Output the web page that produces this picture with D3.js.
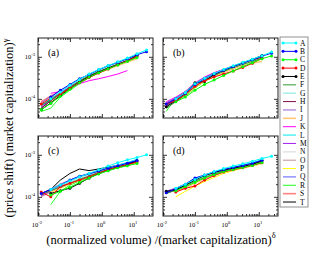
<!DOCTYPE html>
<html>
<head>
<meta charset="utf-8">
<title>Price impact master curve</title>
<script src="https://cdn.jsdelivr.net/npm/d3@7"></script>
<style>
  body { margin: 0; background: #fff; }
  svg { font-family: "Liberation Serif", "DejaVu Serif", serif; }
  .tick line { stroke: #000; stroke-width: 0.8; }
</style>
</head>
<body>
<div id="chart"></div>
<script>
// normalized volume / (market capitalization)^delta, bin centres
var volume = [0.0126, 0.0251, 0.0501, 0.1, 0.2, 0.398, 0.794, 1.58, 3.16, 6.31, 12.6, 25.1];
var stocks = ['A','B','C','D','E','F','G','H','I','J','K','L','M','N','O','P','Q','R','S','T'];
var stockColors = ['#00ffff','#0000ff','#00ff00','#ff0000','#000000','#339933','#a8f0e8','#80104a',
  '#9460d0','#ffc878','#ff00ff','#00e8f0','#a020f0','#e6e6e6','#c09090','#ffff00','#5a5aff','#22ff22','#ff8080','#000000'];
var thickStocks = ['G','J','N','S'];
var shiftUnit = 1e-4; // values below are in units of 10^-4

var panelA = [
  [null,1.0,1.45,2.1,2.9,3.9,5.0,6.2,7.6,9.3,11.8,14.5],
  [null,1.1,1.6,2.2,3.0,3.8,4.9,6.1,7.4,9.0,11.2,13.2],
  [0.55,0.78,1.15,1.7,2.4,3.3,4.2,5.2,6.4,7.8,9.6,null],
  [0.75,1.05,1.3,1.8,2.4,3.2,4.1,5.1,6.5,8.0,10.2,null],
  [0.55,0.8,1.2,1.75,2.5,3.4,4.3,5.3,6.6,8.1,10.8,null],
  [0.7,0.95,1.3,1.85,2.6,3.5,4.4,5.4,6.6,8.0,9.8,null],
  [null,1.05,1.5,2.1,2.9,3.8,4.8,5.9,7.2,8.8,11.0,null],
  [0.6,0.9,1.3,1.9,2.7,3.6,4.5,5.6,6.9,8.4,null,null],
  [0.8,1.15,1.5,2.0,2.8,3.7,4.7,5.7,7.0,8.5,10.6,null],
  [null,0.85,1.25,1.8,2.5,3.3,4.2,5.1,6.2,7.5,9.0,null],
  [null,1.35,1.5,1.8,2.3,2.7,3.0,3.4,3.9,4.7,null,null],
  [0.7,1.0,1.4,2.0,2.8,3.7,4.7,5.8,7.1,8.7,11.2,null],
  [0.65,0.95,1.4,2.0,2.8,3.8,4.6,5.6,6.9,8.5,null,null],
  [null,0.9,1.3,1.9,2.6,3.5,4.4,5.3,6.5,7.9,9.5,null],
  [0.6,0.9,1.25,1.75,2.5,3.4,4.3,5.3,6.5,7.9,9.8,null],
  [null,0.95,1.35,1.9,2.6,3.5,4.5,5.5,6.7,8.1,9.9,null],
  [0.7,1.0,1.45,2.05,2.85,3.75,4.7,5.7,7.0,8.6,10.8,null],
  [0.5,0.6,1.1,1.6,2.3,3.2,4.1,5.1,6.3,7.7,9.6,null],
  [0.85,1.15,1.5,2.0,2.7,3.5,4.4,5.4,6.6,8.0,null,null],
  [0.6,0.9,1.3,1.85,2.6,3.5,4.5,5.6,6.9,8.4,10.6,null]
];
var panelB = [
  [null,1.0,1.4,2.3,3.1,4.0,5.0,6.1,7.4,8.8,10.6,13.0],
  [0.75,1.0,1.35,2.2,3.0,3.9,4.8,5.9,7.1,8.5,10.4,12.2],
  [null,0.85,1.1,1.6,2.2,2.8,3.6,4.6,5.8,7.2,9.0,10.5],
  [0.75,0.9,1.3,2.0,2.7,3.3,3.9,4.6,5.6,7.0,9.3,null],
  [0.65,0.9,1.35,2.4,2.6,3.8,4.8,5.9,7.2,8.6,10.8,null],
  [0.6,0.85,1.25,1.95,2.8,3.6,4.5,5.5,6.6,7.8,9.2,null],
  [null,0.95,1.35,2.1,2.9,3.8,4.7,5.7,6.9,8.2,null,null],
  [0.7,1.0,1.4,2.2,3.0,3.9,4.8,5.8,7.0,8.3,9.8,null],
  [0.8,1.05,1.5,2.3,3.1,3.9,4.7,5.6,6.7,8.0,null,null],
  [null,0.9,1.25,1.9,2.7,3.5,4.3,5.2,6.1,7.0,7.8,null],
  [0.85,1.1,1.5,2.4,3.3,4.2,5.0,6.0,7.1,8.3,null,null],
  [0.7,0.95,1.35,2.15,3.0,3.9,4.9,6.0,7.2,8.6,10.2,null],
  [0.8,1.0,1.4,2.25,3.1,4.0,4.9,5.9,7.0,8.3,null,null],
  [null,0.9,1.3,2.0,2.8,3.7,4.6,5.5,6.6,7.9,9.3,null],
  [0.65,0.9,1.3,2.0,2.8,3.6,4.5,5.4,6.5,7.8,9.2,null],
  [null,0.85,1.2,1.85,2.6,3.4,4.3,5.3,6.4,7.7,9.0,null],
  [0.7,0.95,1.35,2.1,2.9,3.8,4.7,5.7,6.9,8.2,9.9,null],
  [0.5,1.05,1.15,1.8,2.6,3.4,4.3,5.3,6.5,7.8,9.4,null],
  [0.75,0.95,1.3,2.0,2.8,3.6,4.5,5.4,6.5,7.8,null,null],
  [0.7,0.95,1.4,2.3,3.2,4.1,5.0,6.0,7.2,8.5,10.0,null]
];
var panelC = [
  [null,1.5,1.9,2.4,3.0,3.6,4.4,5.4,6.5,7.6,8.6,10.0],
  [1.2,1.5,1.9,2.5,3.1,3.5,4.1,4.8,5.5,6.3,7.3,null],
  [null,1.1,1.35,1.7,2.2,2.8,3.5,4.2,4.9,5.5,6.2,null],
  [1.3,1.0,1.75,2.1,2.5,3.0,3.7,4.4,5.1,5.8,6.7,null],
  [null,1.2,1.4,1.6,2.1,2.8,3.6,4.4,5.1,5.8,7.2,null],
  [1.1,1.4,1.7,2.1,2.6,3.1,3.8,4.5,5.2,5.9,6.8,null],
  [null,1.5,1.9,2.3,2.8,3.3,4.0,4.7,5.4,6.1,null,null],
  [1.2,1.5,1.85,2.3,2.8,3.3,4.0,4.7,5.4,6.1,7.0,null],
  [1.15,1.55,2.0,2.5,3.0,3.5,4.1,4.8,5.4,6.1,null,null],
  [null,1.3,1.65,2.1,2.6,3.1,3.8,4.5,5.1,5.7,6.4,null],
  [1.05,1.4,1.8,2.3,2.9,3.4,4.0,4.6,5.2,5.8,null,null],
  [1.1,1.45,1.85,2.3,2.8,3.4,4.1,4.9,5.7,6.6,7.8,null],
  [1.2,1.5,1.9,2.4,2.9,3.4,4.0,4.7,5.3,6.0,null,null],
  [null,1.35,1.7,2.1,2.6,3.1,3.7,4.4,5.1,5.8,6.6,null],
  [1.0,1.3,1.65,2.05,2.5,3.0,3.7,4.4,5.1,5.8,6.7,null],
  [null,1.25,1.6,2.0,2.5,3.0,3.7,4.4,5.0,5.7,6.5,null],
  [1.15,1.5,1.95,2.5,3.1,3.6,4.2,4.9,5.6,6.4,7.4,null],
  [null,0.65,1.35,1.9,2.4,2.9,3.5,4.2,4.9,5.6,6.5,null],
  [1.1,1.4,1.75,2.2,2.7,3.2,3.9,4.6,5.2,5.9,null,null],
  [1.15,1.5,2.5,3.6,4.6,4.2,4.6,5.1,5.6,6.3,7.0,null]
];
var panelD = [
  [null,1.6,2.0,2.6,3.3,4.0,4.7,5.4,6.1,7.0,8.2,9.2],
  [1.25,1.55,2.0,2.8,3.3,3.9,4.5,5.0,5.6,6.3,7.4,null],
  [null,1.4,1.75,2.2,2.8,3.4,4.0,4.5,5.0,5.6,6.6,null],
  [null,1.3,1.6,1.8,2.5,3.2,3.9,4.4,4.9,5.6,6.5,null],
  [1.35,1.45,1.9,2.5,3.2,3.8,4.3,4.8,5.3,5.9,7.3,null],
  [1.2,1.45,1.85,2.35,2.9,3.5,4.1,4.6,5.1,5.7,6.6,null],
  [null,1.55,1.95,2.45,3.0,3.6,4.2,4.7,5.3,6.0,null,null],
  [1.3,1.55,1.95,2.5,3.1,3.7,4.3,4.8,5.3,6.0,7.0,null],
  [1.35,1.6,2.0,2.5,3.1,3.7,4.2,4.7,5.2,5.8,null,null],
  [null,1.3,1.65,2.1,2.7,3.3,3.9,4.4,4.9,5.5,6.3,null],
  [1.25,1.5,1.9,2.45,3.05,3.65,4.25,4.8,5.4,6.1,null,null],
  [1.3,1.55,1.95,2.5,3.1,3.7,4.4,5.0,5.7,6.5,7.6,null],
  [1.35,1.6,2.0,2.55,3.15,3.75,4.3,4.8,5.3,5.9,null,null],
  [null,1.4,1.8,2.3,2.85,3.45,4.0,4.5,5.0,5.6,6.4,null],
  [1.2,1.45,1.85,2.35,2.9,3.5,4.1,4.6,5.1,5.7,6.6,null],
  [null,1.0,1.35,1.8,2.3,2.9,3.6,4.2,4.8,5.4,6.2,null],
  [1.3,1.6,2.0,2.7,3.3,3.9,4.4,4.9,5.4,6.1,7.1,null],
  [1.2,1.45,1.85,2.35,2.95,3.55,4.15,4.65,5.15,5.8,6.7,null],
  [1.25,1.5,1.9,2.3,2.9,3.5,4.1,4.6,5.1,5.7,null,null],
  [1.3,1.45,1.9,2.45,3.05,3.65,4.25,4.75,5.25,5.9,6.9,null]
];
var panelLabels = ['(a)', '(b)', '(c)', '(d)'];
var xTickValues = [0.01, 0.1, 1, 10];
var xTickExps = ['-2', '-1', '0', '1'];
var yTickValues = [1e-4, 1e-3];
var yTickExps = ['-4', '-3'];

var width = 330, height = 255;
var panelW = 115, panelH = 80;
var panelPos = [[38, 38], [163, 38], [38, 136], [163, 136]];

var svg = d3.select('#chart').append('svg')
  .attr('width', width).attr('height', height);

var x = d3.scaleLog().domain([0.01, 40]).range([0, panelW]);
var y = d3.scaleLog().domain([3.5e-5, 2.8e-3]).range([panelH, 0]);
var color = d3.scaleOrdinal().domain(stocks).range(stockColors);

// minor ticks of the log axes
var xMinor = [], yMinor = [];
[-2, -1, 0, 1].forEach(function(e) {
  for (var m = 2; m <= 9; m++) { var v = m * Math.pow(10, e); if (v < 40) xMinor.push(v); }
});
[-5, -4, -3].forEach(function(e) {
  for (var m = 2; m <= 9; m++) { var v = m * Math.pow(10, e); if (v > 3.5e-5 && v < 2.8e-3) yMinor.push(v); }
});

var line = d3.line()
  .defined(function(d) { return d[1] != null; })
  .x(function(d) { return x(d[0]); })
  .y(function(d) { return y(d[1] * shiftUnit); });

function powerLabel(sel, exp) {
  sel.append('tspan').text('10');
  sel.append('tspan').attr('dy', -3).attr('font-size', 4.6).text(exp);
}

function noDomain(g) { g.select('.domain').remove(); }

[panelA, panelB, panelC, panelD].forEach(function(rows, p) {
  var g = svg.append('g')
    .attr('transform', 'translate(' + panelPos[p][0] + ',' + panelPos[p][1] + ')');

  g.append('clipPath').attr('id', 'clip' + p)
    .append('rect').attr('width', panelW).attr('height', panelH);

  var series = rows.map(function(vals, i) {
    return { name: stocks[i], pts: volume.map(function(v, j) { return [v, vals[j]]; }) };
  });
  var order = series.slice().reverse();

  var plot = g.append('g').attr('clip-path', 'url(#clip' + p + ')');
  plot.selectAll('path.series')
    .data(order)
    .enter().append('path')
    .attr('class', 'series')
    .attr('d', function(d) { return line(d.pts); })
    .attr('fill', 'none')
    .attr('stroke', function(d) { return color(d.name); })
    .attr('stroke-width', function(d) { return thickStocks.indexOf(d.name) >= 0 ? 1.6 : 1; });

  order.filter(function(d) { return stocks.indexOf(d.name) < 5; }).forEach(function(s) {
    plot.selectAll(null)
      .data(s.pts.filter(function(d) { return d[1] != null; }))
      .enter().append('circle')
      .attr('cx', function(d) { return x(d[0]); })
      .attr('cy', function(d) { return y(d[1] * shiftUnit); })
      .attr('r', 1.5)
      .attr('fill', color(s.name));
  });

  // ticks on all four sides, pointing inwards
  g.append('g').attr('transform', 'translate(0,' + panelH + ')')
    .call(d3.axisBottom(x).tickValues(xTickValues).tickSize(-4).tickFormat('')).call(noDomain);
  g.append('g').attr('transform', 'translate(0,' + panelH + ')')
    .call(d3.axisBottom(x).tickValues(xMinor).tickSize(-2).tickFormat('')).call(noDomain);
  g.append('g')
    .call(d3.axisTop(x).tickValues(xTickValues).tickSize(-4).tickFormat('')).call(noDomain);
  g.append('g')
    .call(d3.axisTop(x).tickValues(xMinor).tickSize(-2).tickFormat('')).call(noDomain);
  g.append('g')
    .call(d3.axisLeft(y).tickValues(yTickValues).tickSize(-4).tickFormat('')).call(noDomain);
  g.append('g')
    .call(d3.axisLeft(y).tickValues(yMinor).tickSize(-2).tickFormat('')).call(noDomain);
  g.append('g').attr('transform', 'translate(' + panelW + ',0)')
    .call(d3.axisRight(y).tickValues(yTickValues).tickSize(-4).tickFormat('')).call(noDomain);
  g.append('g').attr('transform', 'translate(' + panelW + ',0)')
    .call(d3.axisRight(y).tickValues(yMinor).tickSize(-2).tickFormat('')).call(noDomain);

  g.append('rect')
    .attr('width', panelW).attr('height', panelH)
    .attr('fill', 'none').attr('stroke', '#222').attr('stroke-width', 1);

  if (p % 2 === 0) {
    yTickValues.forEach(function(v, i) {
      g.append('text')
        .attr('x', -3).attr('y', y(v) + 2)
        .attr('text-anchor', 'end')
        .attr('font-size', 6.5)
        .call(powerLabel, yTickExps[i]);
    });
  }
  if (p >= 2) {
    xTickValues.forEach(function(v, i) {
      g.append('text')
        .attr('x', x(v) - 1).attr('y', panelH + 11)
        .attr('text-anchor', 'middle')
        .attr('font-size', 6.5)
        .call(powerLabel, xTickExps[i]);
    });
  }

  g.append('text')
    .attr('x', 10).attr('y', 18)
    .attr('font-size', 10)
    .text(panelLabels[p]);
});

// axis titles
var yTitle = svg.append('text')
  .attr('transform', 'translate(13,128) rotate(-90)')
  .attr('text-anchor', 'middle')
  .attr('font-size', 12.5);
yTitle.append('tspan').text('(price shift) (market capitalization)');
yTitle.append('tspan').attr('dy', -5).attr('font-size', 8.5).text('γ');

var xTitle = svg.append('text')
  .attr('x', 161).attr('y', 244)
  .attr('text-anchor', 'middle')
  .attr('font-size', 12.5);
xTitle.append('tspan').text('(normalized volume) /(market capitalization)');
xTitle.append('tspan').attr('dy', -6).attr('font-size', 8.5).text('δ');

// legend
var legendTop = 43, legendStep = 8.37;
svg.append('rect')
  .attr('x', 280).attr('y', 37).attr('width', 28).attr('height', 170)
  .attr('fill', '#fff').attr('stroke', '#777').attr('stroke-width', 0.8);

var legend = svg.selectAll('.legend')
  .data(stocks)
  .enter().append('g')
  .attr('class', 'legend')
  .attr('transform', function(d, i) { return 'translate(283,' + (legendTop + i * legendStep) + ')'; });

legend.append('line')
  .attr('x1', 0).attr('x2', 13)
  .attr('stroke', color)
  .attr('stroke-width', function(d) { return thickStocks.indexOf(d) >= 0 ? 1.6 : 1; });

legend.filter(function(d, i) { return i < 5; }).each(function(d) {
  d3.select(this).selectAll('circle')
    .data([0, 13]).enter().append('circle')
    .attr('cx', function(c) { return c; }).attr('r', 1.5)
    .attr('fill', color(d));
});

legend.append('text')
  .attr('x', 17).attr('y', 2.5)
  .attr('font-size', 7.5)
  .text(function(d) { return d; });
</script>
</body>
</html>
